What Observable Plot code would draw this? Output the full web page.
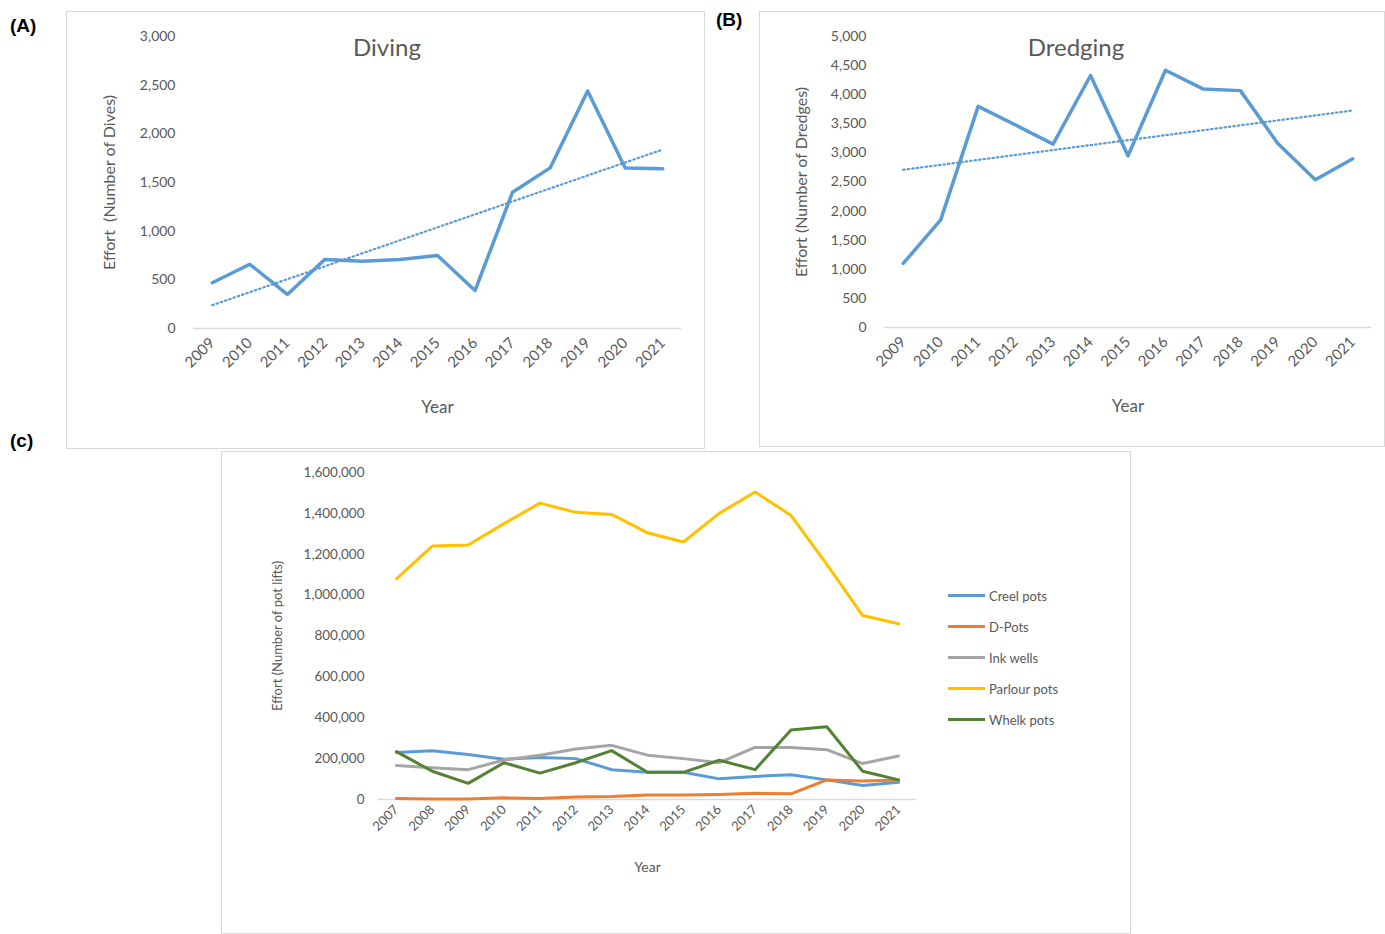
<!DOCTYPE html>
<html>
<head>
<meta charset="utf-8">
<script src="https://cdn.jsdelivr.net/npm/d3@7"></script>
<script src="https://cdn.jsdelivr.net/npm/@observablehq/plot@0.6"></script>
<style>
  body { margin: 0; background: white; font-family: Lato, "Open Sans", sans-serif; }
  #page { position: relative; width: 1385px; height: 934px; }
  .panel { position: absolute; border: 1px solid #d9d9d9; box-sizing: border-box; background: white; }
  .tag { position: absolute; font-family: "Liberation Sans", Arial, sans-serif; font-weight: bold; font-size: 19px; color: #000; }
  .title { position: absolute; font-size: 24px; color: #595959; transform: translateX(-50%); white-space: nowrap; }
  .legend { position: absolute; font-size: 13px; color: #595959; }
  .legend div { display: flex; align-items: center; height: 31px; }
  .legend span.sw { display: inline-block; width: 37px; height: 3px; margin-right: 4px; }
  #a g[aria-label="y-axis label"], #b g[aria-label="y-axis label"] { font-size: 16px; }
  #a g[aria-label="x-axis label"], #b g[aria-label="x-axis label"] { font-size: 17px; }
  #a g[aria-label="x-axis tick label"], #b g[aria-label="x-axis tick label"] { font-size: 15px; }
  #c g[aria-label="y-axis label"] { font-size: 13px; }
  #c g[aria-label="x-axis label"] { font-size: 14px; }
  #c g[aria-label="x-axis tick label"] { font-size: 13px; }
  #c g[aria-label="y-axis tick label"] { font-size: 13.5px; }
</style>
</head>
<body>
<div id="page">
  <div class="tag" style="left:10px;top:15px">(A)</div>
  <div class="tag" style="left:716px;top:9px">(B)</div>
  <div class="tag" style="left:10px;top:430px">(c)</div>
  <div class="panel" id="a" style="left:66px;top:11px;width:639px;height:438px"></div>
  <div class="panel" id="b" style="left:759px;top:11px;width:626px;height:436px"></div>
  <div class="panel" id="c" style="left:221px;top:451px;width:910px;height:483px"></div>
</div>
<script>
// (A) diving effort
const yearsAB = [2009, 2010, 2011, 2012, 2013, 2014, 2015, 2016, 2017, 2018, 2019, 2020, 2021];
const dives = [470, 660, 350, 710, 690, 710, 750, 390, 1400, 1650, 2440, 1650, 1640];

// (B) dredging effort
const dredges = [1100, 1850, 3800, 3480, 3150, 4330, 2950, 4420, 4100, 4070, 3160, 2540, 2900];

// (c) pot lifts
const yearsC = [2007, 2008, 2009, 2010, 2011, 2012, 2013, 2014, 2015, 2016, 2017, 2018, 2019, 2020, 2021];
const creel = [230000, 238000, 220000, 197000, 205000, 200000, 146000, 133000, 133000, 101000, 113000, 121000, 96000, 68000, 84000];
const dpots = [5000, 2000, 3000, 8000, 5000, 12000, 15000, 22000, 22000, 25000, 30000, 28000, 96000, 90000, 96000];
const inkwells = [166000, 155000, 146000, 193000, 217000, 247000, 265000, 217000, 200000, 180000, 255000, 255000, 244000, 176000, 213000];
const parlour = [1080000, 1240000, 1245000, 1350000, 1450000, 1405000, 1395000, 1305000, 1260000, 1400000, 1505000, 1390000, 1150000, 900000, 860000];
const whelk = [234000, 138000, 79000, 180000, 129000, 180000, 239000, 133000, 133000, 192000, 146000, 340000, 356000, 138000, 96000];

const seriesC = ["Creel pots", "D-Pots", "Ink wells", "Parlour pots", "Whelk pots"];
const colorsC = ["#5b9bd5", "#ed7d31", "#a5a5a5", "#ffc000", "#548235"];
const valuesC = [creel, dpots, inkwells, parlour, whelk];

const blue = "#5b9bd5";
const grey = "#595959";

// one-series panel with dotted linear trend
function panel(el, values, yMax, yLabel, title, w, h, m) {
  const data = yearsAB.map((y, i) => ({year: y, value: values[i]}));
  const chart = Plot.plot({
    width: w,
    height: h,
    marginTop: m.top,
    marginBottom: m.bottom,
    marginLeft: m.left,
    marginRight: m.right,
    style: {fontFamily: "Lato, 'Open Sans', sans-serif", fontSize: "14px", color: grey, background: "transparent"},
    x: {
      domain: [yearsAB[0] - 0.5, yearsAB[yearsAB.length - 1] + 0.5],
      ticks: yearsAB,
      tickFormat: d => String(d),
      label: "Year",
      labelAnchor: "center",
      labelOffset: 84,
      labelArrow: "none",
      tickRotate: -45,
      tickSize: 0,
      tickPadding: 12
    },
    y: {
      domain: [0, yMax],
      ticks: d3.range(0, yMax + 1, 500),
      tickFormat: d3.format(","),
      tickSize: 0,
      tickPadding: 18,
      label: yLabel,
      labelAnchor: "center",
      labelArrow: "none",
      labelOffset: m.labelOffset
    },
    marks: [
      Plot.ruleY([0], {stroke: "#d9d9d9", strokeWidth: 1.5}),
      Plot.linearRegressionY(data, {x: "year", y: "value", stroke: blue, strokeWidth: 2.2, strokeDasharray: "1.5,3", ci: 0}),
      Plot.line(data, {x: "year", y: "value", stroke: blue, strokeWidth: 3.5})
    ]
  });
  el.append(chart);
  const t = document.createElement("div");
  t.className = "title";
  t.textContent = title;
  t.style.left = m.titleX + "px";
  t.style.top = "20px";
  el.append(t);
}

panel(document.getElementById("a"), dives, 3000, "Effort  (Number of Dives)", "Diving", 637, 436,
  {top: 24, bottom: 120, left: 126, right: 23, labelOffset: 90, titleX: 320});
panel(document.getElementById("b"), dredges, 5000, "Effort (Number of Dredges)", "Dredging", 624, 434,
  {top: 24, bottom: 119, left: 124, right: 13, labelOffset: 89, titleX: 316});

// panel c
const rowsC = [];
seriesC.forEach((s, k) => yearsC.forEach((y, i) => rowsC.push({series: s, year: y, value: valuesC[k][i]})));

const chartC = Plot.plot({
  width: 908,
  height: 481,
  marginTop: 20,
  marginBottom: 134,
  marginLeft: 156,
  marginRight: 214,
  style: {fontFamily: "Lato, 'Open Sans', sans-serif", fontSize: "12px", color: grey, background: "transparent"},
  x: {
    domain: [yearsC[0] - 0.5, yearsC[yearsC.length - 1] + 0.5],
    ticks: yearsC,
    tickFormat: d => String(d),
    label: "Year",
    labelAnchor: "center",
    labelArrow: "none",
    labelOffset: 72,
    tickRotate: -45,
    tickSize: 0,
    tickPadding: 8
  },
  y: {
    domain: [0, 1600000],
    ticks: d3.range(0, 1600001, 200000),
    tickFormat: d3.format(","),
    tickSize: 0,
    tickPadding: 14,
    label: "Effort (Number of pot lifts)",
    labelAnchor: "center",
    labelArrow: "none",
    labelOffset: 106
  },
  color: {domain: seriesC, range: colorsC},
  marks: [
    Plot.ruleY([0], {stroke: "#d9d9d9", strokeWidth: 1.5}),
    Plot.line(rowsC, {x: "year", y: "value", z: "series", stroke: "series", strokeWidth: 3})
  ]
});
document.getElementById("c").append(chartC);

const leg = document.createElement("div");
leg.className = "legend";
leg.style.left = "726px";
leg.style.top = "128px";
seriesC.forEach((s, k) => {
  const row = document.createElement("div");
  const sw = document.createElement("span");
  sw.className = "sw";
  sw.style.background = colorsC[k];
  row.append(sw);
  row.append(document.createTextNode(s));
  leg.append(row);
});
document.getElementById("c").append(leg);
</script>
</body>
</html>
